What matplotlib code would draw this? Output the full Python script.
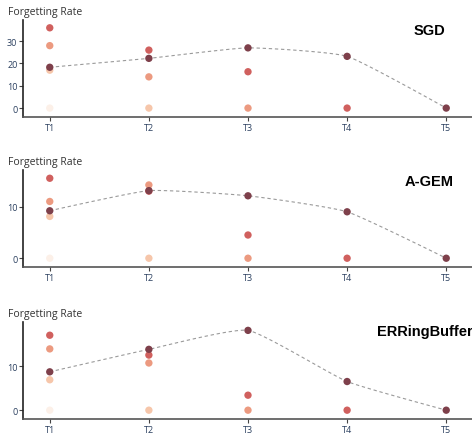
import numpy as np
import matplotlib
matplotlib.use("Agg")
import matplotlib.pyplot as plt

tasks = ["T1", "T2", "T3", "T4", "T5"]
methods = ["SGD", "A-GEM", "ERRingBuffer"]

# forgetting of each task after training step k (steps 1..5)
sgd_steps = [
    [0],
    [17, 0],
    [28, 14, 0],
    [36, 26, 16.3, 0],
    [18.3, 22.3, 27, 23.2, 0],
]
agem_steps = [
    [0],
    [8.1, 0],
    [11.0, 14.2, 0],
    [15.5, 13.0, 4.5, 0],
    [9.2, 13.1, 12.1, 9.0, 0],
]
er_steps = [
    [0],
    [6.9, 0],
    [13.9, 10.7, 0],
    [17.0, 12.5, 3.4, 0],
    [8.7, 13.8, 18.1, 6.5, 0],
]
all_steps = [sgd_steps, agem_steps, er_steps]

step_colors = ["#fcf0e8", "#f6c6aa", "#ec9a80", "#d0605e", "#7e404b"]

W, H = 472, 435
fig = plt.figure(figsize=(W / 100, H / 100), dpi=100)

# panel geometry in pixels: (top, bottom)
panels = [(21, 118), (171, 268), (323, 420)]
ylims = [(-4.0, 39.5), (-1.7, 17.1), (-2.0, 20.0)]
yticks = [[0, 10, 20, 30], [0, 10], [0, 10]]
label_y = [13, 163, 315]
title_y = [31, 182, 332]
title_x = [429, 429, 425]

left_px = 23


def cardinal(xs, ys, tension=0.45, n=30):
    xs = np.asarray(xs, float)
    ys = np.asarray(ys, float)
    P = np.column_stack([xs, ys])
    m = np.zeros_like(P)
    m[1:-1] = tension * (P[2:] - P[:-2]) * 0.5
    out = []
    t = np.linspace(0, 1, n)[:, None]
    h00 = 2 * t ** 3 - 3 * t ** 2 + 1
    h10 = t ** 3 - 2 * t ** 2 + t
    h01 = -2 * t ** 3 + 3 * t ** 2
    h11 = t ** 3 - t ** 2
    for i in range(len(P) - 1):
        out.append(h00 * P[i] + h10 * m[i] + h01 * P[i + 1] + h11 * m[i + 1])
    out = np.vstack(out)
    return out[:, 0], out[:, 1]


tick_color = "#2a3f5f"
axis_color = "#444444"

for pi, (steps, method) in enumerate(zip(all_steps, methods)):
    top, bot = panels[pi]
    ax = fig.add_axes([left_px / W, 1 - bot / H, 1 - left_px / W, (bot - top) / H])
    ax.set_xlim(-0.27, 4.26)
    ax.set_ylim(*ylims[pi])
    final = steps[-1]
    sx, sy = cardinal(np.arange(len(final)), final)
    ax.plot(sx, sy, ls=(0, (3, 2.5)), color="#9a9a9a", lw=0.8, zorder=1)
    for k, vals in enumerate(steps):
        ax.scatter(np.arange(len(vals)), vals, s=28, color=step_colors[k],
                   edgecolors="none", zorder=2 + k)
    ax.set_xticks(range(len(tasks)))
    ax.set_xticklabels(tasks)
    ax.set_yticks(yticks[pi])
    for s in ["top", "right"]:
        ax.spines[s].set_visible(False)
    ax.spines["left"].set_color("#222222")
    ax.spines["bottom"].set_color("#555555")
    ax.spines["left"].set_linewidth(1.2)
    ax.spines["bottom"].set_linewidth(1.2)
    ax.tick_params(axis="both", direction="out", length=3, width=0.8,
                   color=axis_color, labelsize=6.5, labelcolor=tick_color, pad=1)
    ax.patch.set_alpha(0)
    for lab in ax.get_xticklabels() + ax.get_yticklabels():
        lab.set_family("Open Sans")
    fig.text(8 / W, 1 - label_y[pi] / H, "Forgetting Rate", ha="left", va="center",
             fontsize=7.5, color="#333333", family="Open Sans")
    fig.text(title_x[pi] / W, 1 - title_y[pi] / H, method, ha="center", va="center",
             fontsize=10.5, fontweight="bold", color="black", family="Liberation Sans")

fig.savefig("out.png", dpi=100)
